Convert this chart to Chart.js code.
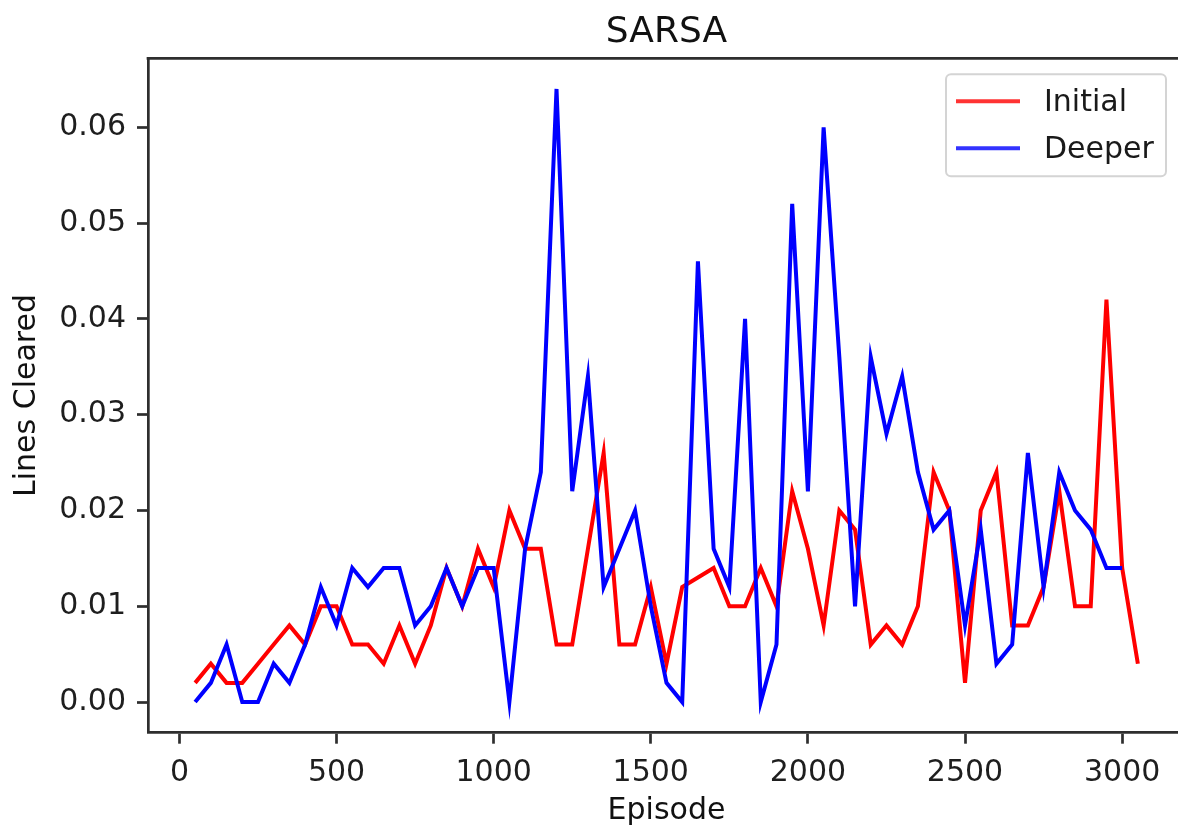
<!DOCTYPE html>
<html><head><meta charset="utf-8">
<script src="https://cdn.jsdelivr.net/npm/chart.js@4.4.1/dist/chart.umd.min.js"></script>
<style>
html,body{margin:0;padding:0;background:#fff;overflow:hidden;width:1178px;height:828px}
#wrap{position:relative;width:1190px;height:828px}
canvas{display:block}
</style></head><body>
<div id="wrap"><canvas id="c" width="1190" height="828" style="width:1190px;height:828px"></canvas></div>
<script>
const episodes = [50,100,150,200,250,300,350,400,450,500,
  550,600,650,700,750,800,850,900,950,1000,
  1050,1100,1150,1200,1250,1300,1350,1400,1450,1500,
  1550,1600,1650,1700,1750,1800,1850,1900,1950,2000,
  2050,2100,2150,2200,2250,2300,2350,2400,2450,2500,
  2550,2600,2650,2700,2750,2800,2850,2900,2950,3000,
  3050];
const initialLines = [0.002,0.004,0.002,0.002,0.004,0.006,0.008,0.006,0.010,0.010,
  0.006,0.006,0.004,0.008,0.004,0.008,0.014,0.010,0.016,0.012,
  0.020,0.016,0.016,0.006,0.006,0.016,0.026,0.006,0.006,0.012,
  0.004,0.012,0.013,0.014,0.010,0.010,0.014,0.010,0.022,0.016,
  0.008,0.020,0.018,0.006,0.008,0.006,0.010,0.024,0.020,0.002,
  0.020,0.024,0.008,0.008,0.012,0.022,0.010,0.010,0.042,0.014,
  0.004];
const deeperLines = [0.000,0.002,0.006,0.000,0.000,0.004,0.002,0.006,0.012,0.008,
  0.014,0.012,0.014,0.014,0.008,0.010,0.014,0.010,0.014,0.014,
  0.000,0.016,0.024,0.064,0.022,0.034,0.012,0.016,0.020,0.010,
  0.002,0.000,0.046,0.016,0.012,0.040,0.000,0.006,0.052,0.022,
  0.060,0.036,0.010,0.036,0.028,0.034,0.024,0.018,0.020,0.008,
  0.018,0.004,0.006,0.026,0.012,0.024,0.020,0.018,0.014,0.014];
const xTickValues = [0,500,1000,1500,2000,2500,3000];
const yTickValues = [0.00,0.01,0.02,0.03,0.04,0.05,0.06];
const seriesNames = ['Initial','Deeper'];
const seriesColors = ['#ff0000','#0000ff'];
const chartTitle = 'SARSA';
const xTitle = 'Episode';
const yTitle = 'Lines Cleared';

const FONT = "'DejaVu Sans', sans-serif";
const AX = '#2e2e2e';

function pairs(xs, ys){ return ys.map((v,i)=>({x:xs[i], y:v})); }

const topSpine = {
  id:'topSpine',
  afterDatasetsDraw(chart){
    const {ctx, chartArea:a} = chart;
    ctx.save();
    ctx.strokeStyle = AX; ctx.lineWidth = 2.7;
    ctx.beginPath(); ctx.moveTo(a.left-1.35, a.top); ctx.lineTo(a.right, a.top); ctx.stroke();
    ctx.restore();
  }
};

const boxLegend = {
  id:'boxLegend',
  afterDraw(chart){
    const {ctx, chartArea:a} = chart;
    const w = 220, h = 102;
    const x0 = a.right - 19 - w, y0 = a.top + 16;
    ctx.save();
    ctx.beginPath();
    if (ctx.roundRect) ctx.roundRect(x0, y0, w, h, 5); else ctx.rect(x0,y0,w,h);
    ctx.fillStyle = 'rgba(255,255,255,0.85)';
    ctx.fill();
    ctx.strokeStyle = '#d4d4d4'; ctx.lineWidth = 2;
    ctx.stroke();
    chart.data.datasets.forEach((ds,i)=>{
      const yy = y0 + 27 + i*47;
      ctx.strokeStyle = ds.borderColor; ctx.globalAlpha = 0.8; ctx.lineWidth = 4;
      ctx.beginPath(); ctx.moveTo(x0+10, yy); ctx.lineTo(x0+74, yy); ctx.stroke();
      ctx.globalAlpha = 1;
      ctx.fillStyle = '#1a1a1a';
      ctx.font = '30px ' + FONT;
      ctx.textBaseline = 'middle'; ctx.textAlign = 'left';
      ctx.fillText(ds.label, x0+98, yy+2);
    });
    ctx.restore();
  }
};

new Chart(document.getElementById('c'), {
  type:'line',
  data:{
    datasets:[
      {label:seriesNames[0], data:pairs(episodes, initialLines), borderColor:seriesColors[0], backgroundColor:seriesColors[0], borderWidth:4, pointRadius:0, tension:0, fill:false, order:2},
      {label:seriesNames[1], data:pairs(episodes.slice(0, deeperLines.length), deeperLines), borderColor:seriesColors[1], backgroundColor:seriesColors[1], borderWidth:4, pointRadius:0, tension:0, fill:false, order:1}
    ]
  },
  options:{
    responsive:false, animation:false, devicePixelRatio:1,
    layout:{padding:{left:0, right:5, top:0, bottom:0}},
    plugins:{
      legend:{display:false},
      tooltip:{enabled:false},
      title:{display:true, text:chartTitle, fullSize:false, align:'center', color:'#111',
        font:{family:FONT, size:36, weight:'normal', lineHeight:1.2},
        padding:{top:10.8, bottom:4.3}}
    },
    scales:{
      x:{type:'linear', min:-100, max:3200,
        afterBuildTicks(s){ s.ticks = xTickValues.map(v=>({value:v})); },
        afterFit(s){ s.height = 95.3; },
        ticks:{color:'#1e1e1e', font:{family:FONT, size:30}, padding:12, maxRotation:0, autoSkip:false,
          callback:(v)=>String(v)},
        grid:{display:true, drawOnChartArea:false, drawTicks:true, tickLength:11, tickColor:AX, tickWidth:2.7},
        border:{display:true, color:AX, width:2.7},
        title:{display:true, text:xTitle, color:'#111', font:{family:FONT, size:30, lineHeight:1.1}, padding:{top:0,bottom:0.5}}
      },
      y:{type:'linear', min:-0.0032, max:0.0672,
        afterBuildTicks(s){ s.ticks = yTickValues.map(v=>({value:v})); },
        afterFit(s){ s.width = 148; },
        ticks:{color:'#1e1e1e', font:{family:FONT, size:30}, padding:11, autoSkip:false,
          callback:(v)=>Number(v).toFixed(2)},
        grid:{display:true, drawOnChartArea:false, drawTicks:true, tickLength:11, tickColor:AX, tickWidth:2.7},
        border:{display:true, color:AX, width:2.7},
        title:{display:true, text:yTitle, color:'#111', font:{family:FONT, size:30, lineHeight:1.1}, padding:{top:10.5,bottom:0}}
      }
    }
  },
  plugins:[topSpine, boxLegend]
});
</script>
</body></html>
